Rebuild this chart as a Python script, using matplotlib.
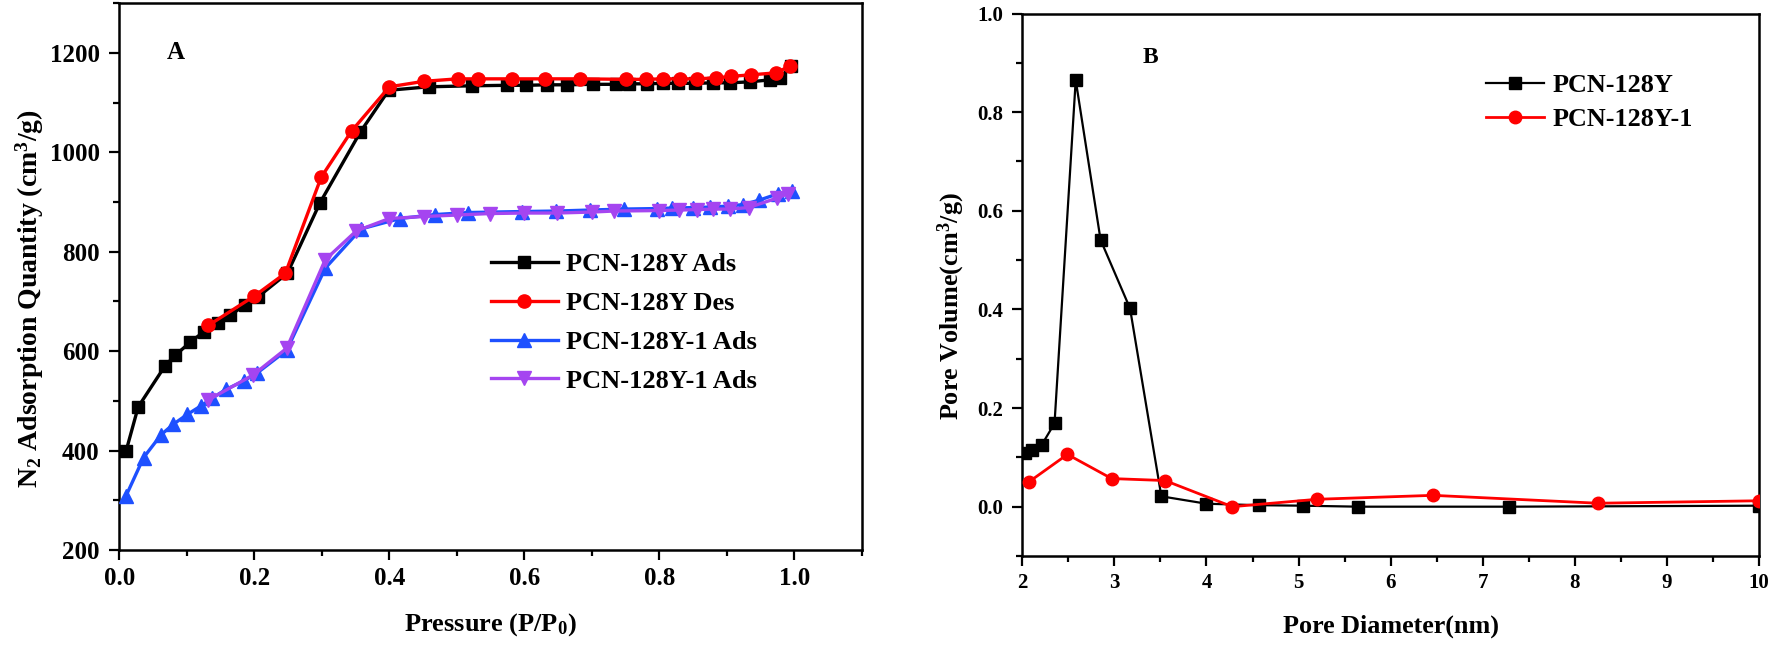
import matplotlib
matplotlib.use("Agg")
import matplotlib.pyplot as plt
from matplotlib.ticker import MultipleLocator

plt.rcParams['font.family'] = ['Liberation Serif', 'DejaVu Serif']
plt.rcParams['font.weight'] = 'bold'
plt.rcParams['mathtext.fontset'] = 'custom'
plt.rcParams['mathtext.rm'] = 'Liberation Serif:bold'
plt.rcParams['mathtext.it'] = 'Liberation Serif:bold'
plt.rcParams['mathtext.bf'] = 'Liberation Serif:bold'

# ---------------- Panel A data ----------------
ads_x = [0.010, 0.028, 0.068, 0.083, 0.105, 0.125, 0.146, 0.164, 0.186, 0.206,
         0.249, 0.297, 0.357, 0.399, 0.458, 0.522, 0.574, 0.603, 0.633, 0.663,
         0.702, 0.735, 0.755, 0.781, 0.806, 0.828, 0.853, 0.880, 0.905, 0.934,
         0.964, 0.979, 0.995]
ads_y = [399, 488, 571, 592, 618, 639, 656, 672, 693, 710,
         757, 898, 1041, 1125, 1132, 1134, 1135, 1135, 1136, 1136,
         1137, 1137, 1138, 1138, 1139, 1139, 1139, 1140, 1140, 1142,
         1146, 1150, 1174]

des_x = [0.132, 0.200, 0.246, 0.299, 0.344, 0.400, 0.451, 0.501, 0.531, 0.581,
         0.630, 0.682, 0.751, 0.780, 0.805, 0.830, 0.855, 0.884, 0.906, 0.935,
         0.972, 0.994]
des_y = [652, 711, 757, 950, 1043, 1132, 1143, 1148, 1148, 1148,
         1148, 1148, 1147, 1147, 1148, 1148, 1148, 1150, 1153, 1156,
         1160, 1174]

ads1_x = [0.010, 0.036, 0.062, 0.080, 0.101, 0.121, 0.138, 0.158, 0.184, 0.204,
          0.248, 0.305, 0.358, 0.416, 0.468, 0.517, 0.596, 0.647, 0.697, 0.747,
          0.796, 0.818, 0.850, 0.875, 0.902, 0.924, 0.948, 0.976, 0.996]
ads1_y = [309, 386, 432, 453, 473, 490, 506, 523, 540, 556,
          602, 767, 846, 867, 875, 879, 881, 882, 884, 886,
          887, 888, 889, 890, 892, 895, 904, 917, 923]

des1_x = [0.132, 0.198, 0.248, 0.305, 0.351, 0.400, 0.451, 0.500, 0.549, 0.599,
          0.648, 0.700, 0.732, 0.800, 0.829, 0.856, 0.880, 0.905, 0.932, 0.974,
          0.991]
des1_y = [502, 552, 606, 784, 842, 867, 871, 874, 877, 878,
          878, 880, 882, 883, 884, 885, 886, 886, 889, 908,
          917]

labels_a = ["PCN-128Y Ads", "PCN-128Y Des", "PCN-128Y-1 Ads", "PCN-128Y-1 Ads"]

# ---------------- Panel B data ----------------
pcn_x = [2.03, 2.11, 2.21, 2.35, 2.58, 2.85, 3.17, 3.51, 4.00, 4.57, 5.05, 5.65, 7.29, 10.0]
pcn_y = [0.108, 0.115, 0.125, 0.169, 0.865, 0.541, 0.402, 0.021, 0.006, 0.003, 0.002, 0.000, 0.000, 0.002]

pcn1_x = [2.07, 2.49, 2.97, 3.55, 4.28, 5.20, 6.46, 8.25, 10.0]
pcn1_y = [0.050, 0.106, 0.057, 0.053, 0.000, 0.015, 0.023, 0.007, 0.012]

labels_b = ["PCN-128Y", "PCN-128Y-1"]

W, H = 1772, 645
fig = plt.figure(figsize=(W / 100, H / 100), dpi=100)

def px_axes(l, r, t, b):
    return fig.add_axes([l / W, 1 - b / H, (r - l) / W, (b - t) / H])

axA = px_axes(119.3, 862, 3.3, 550)
axB = px_axes(1022.3, 1759, 13.5, 556)

for ax in (axA, axB):
    for s in ax.spines.values():
        s.set_linewidth(1.8)
    ax.tick_params(which='both', direction='out', top=False, right=False, width=1.6)
    ax.tick_params(which='major', length=7)
    ax.tick_params(which='minor', length=4)

# Panel A
axA.plot(ads_x, ads_y, color='black', lw=2.4, marker='s', ms=8, label=labels_a[0], zorder=3)
axA.plot(des_x, des_y, color='#FF0000', lw=2.4, marker='o', ms=9.5, label=labels_a[1], zorder=4)
axA.plot(ads1_x, ads1_y, color='#1E50FF', lw=2.4, marker='^', ms=9.5, label=labels_a[2], zorder=3)
axA.plot(des1_x, des1_y, color='#A545F0', lw=2.4, marker='v', ms=9.5, label=labels_a[3], zorder=4)
axA.set_xlim(0, 1.1)
axA.set_ylim(200, 1300)
axA.xaxis.set_minor_locator(MultipleLocator(0.1))
axA.yaxis.set_minor_locator(MultipleLocator(100))
axA.set_xticks([0.0, 0.2, 0.4, 0.6, 0.8, 1.0])
axA.set_yticks([200, 400, 600, 800, 1000, 1200])
axA.tick_params(axis='x', labelsize=18, pad=5)
axA.tick_params(axis='y', labelsize=18, pad=7.2)
for t in axA.get_xticklabels() + axA.get_yticklabels():
    t.set_fontweight('bold')
axA.set_xlabel(r'Pressure (P/P$_0$)', fontsize=19, fontweight='bold')
axA.set_ylabel(r'N$_2$ Adsorption Quantity (cm$^3$/g)', fontsize=20, fontweight='bold')
axA.xaxis.set_label_coords(0.5, -0.137)
axA.xaxis.label.set_va('center')
axA.yaxis.set_label_coords(-0.12, 0.46)
axA.yaxis.label.set_va('center')
axA.text(0.083, 1200, 'A', fontsize=18, fontweight='bold', ha='center', va='center')
legA = axA.legend(loc='upper left', bbox_to_anchor=(0.50, 0.5436), frameon=False,
                  fontsize=19, handlelength=2.55, handletextpad=0.3, labelspacing=0.58,
                  borderpad=0, borderaxespad=0)
for t in legA.get_texts():
    t.set_fontweight('bold')

# Panel B
axB.plot(pcn_x, pcn_y, color='black', lw=1.6, marker='s', ms=8, label=labels_b[0], zorder=3)
axB.plot(pcn1_x, pcn1_y, color='#FF0000', lw=2.0, marker='o', ms=9, label=labels_b[1], zorder=4)
axB.set_xlim(2, 10)
axB.set_ylim(-0.1, 1.0)
axB.set_xticks([2, 3, 4, 5, 6, 7, 8, 9, 10])
axB.xaxis.set_minor_locator(MultipleLocator(0.5))
axB.yaxis.set_minor_locator(MultipleLocator(0.1))
axB.set_yticks([0.0, 0.2, 0.4, 0.6, 0.8, 1.0])
axB.set_yticklabels(['0.0', '0.2', '0.4', '0.6', '0.8', '1.0'])
axB.tick_params(axis='x', labelsize=15, pad=5)
axB.tick_params(axis='y', labelsize=15, pad=6.5)
for t in axB.get_xticklabels() + axB.get_yticklabels():
    t.set_fontweight('bold')
axB.set_xlabel(r'Pore Diameter(nm)', fontsize=18.8, fontweight='bold')
axB.set_ylabel(r'Pore Volume(cm$^{3}$/g)', fontsize=18.8, fontweight='bold')
axB.xaxis.set_label_coords(0.5, -0.130)
axB.xaxis.label.set_va('center')
axB.yaxis.set_label_coords(-0.096, 0.461)
axB.yaxis.label.set_va('center')
axB.text(3.39, 0.911, 'B', fontsize=17, fontweight='bold', ha='center', va='center')
legB = axB.legend(loc='upper left', bbox_to_anchor=(0.63, 0.889), frameon=False,
                  fontsize=18.8, handlelength=2.2, handletextpad=0.35, labelspacing=0.41,
                  borderpad=0, borderaxespad=0)
for t in legB.get_texts():
    t.set_fontweight('bold')

fig.savefig('out.png', dpi=100)
